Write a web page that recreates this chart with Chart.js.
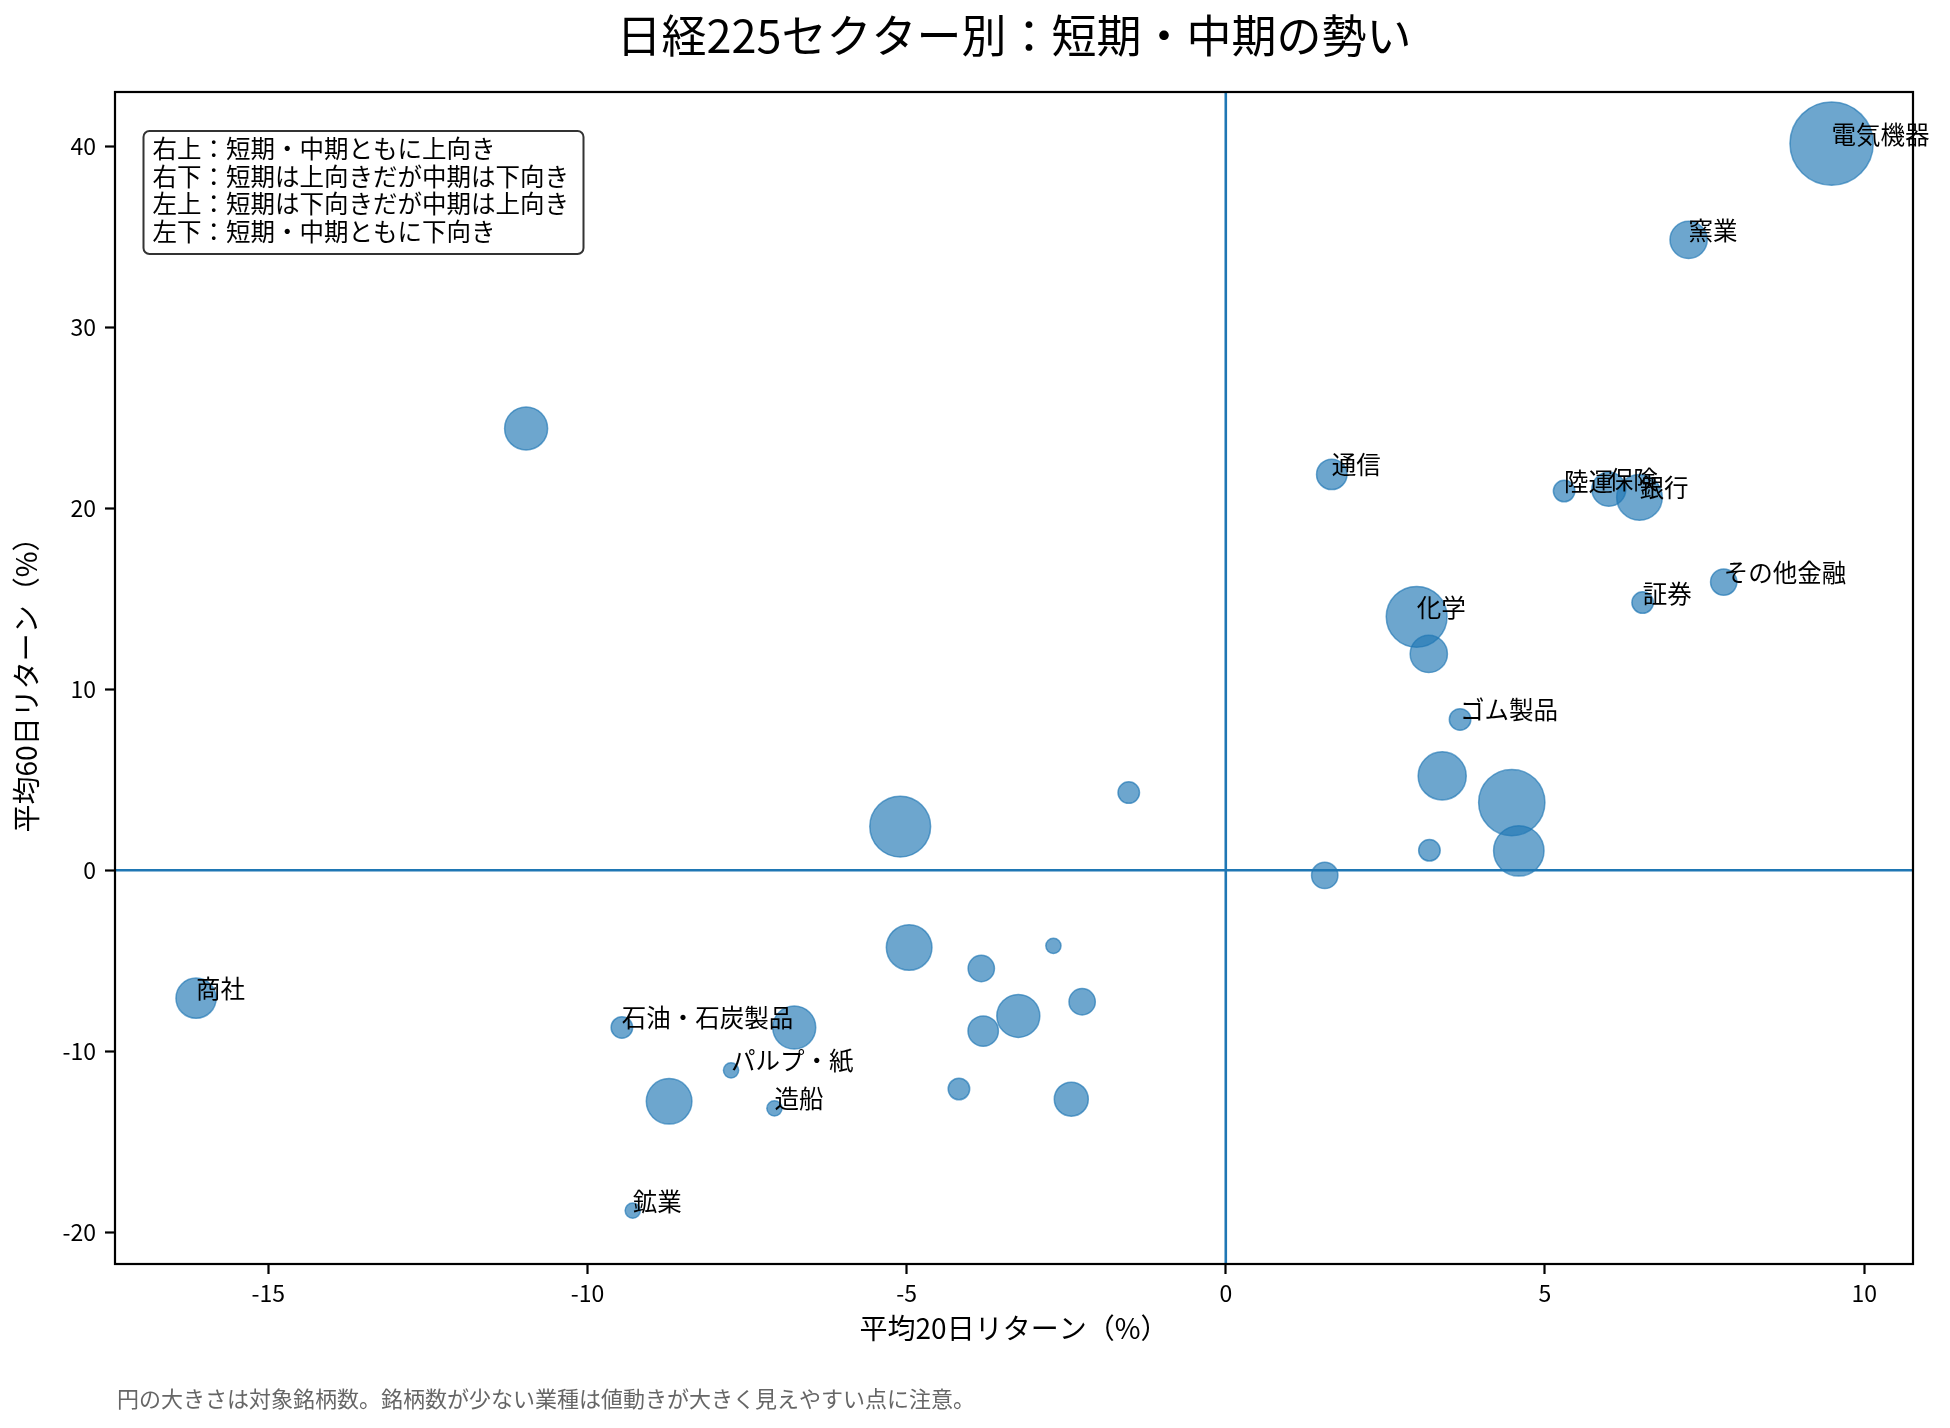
<!DOCTYPE html>
<html>
<head>
<meta charset="utf-8">
<title>日経225セクター別：短期・中期の勢い</title>
<script src="https://cdn.jsdelivr.net/npm/chart.js@4.4.1/dist/chart.umd.min.js"></script>
<style>
  html, body { margin: 0; padding: 0; background: #fff; }
  canvas { display: block; }
</style>
</head>
<body>
<canvas id="sectorChart" width="1950" height="1428"></canvas>
<script>
// セクター名（ラベルを付けない点は空文字）
const sectorNames = [
  '電気機器', '窯業', '通信', '陸運', '保険', '銀行', '証券', 'その他金融',
  '化学', '', 'ゴム製品', '', '', '', '', '', '', '', '',
  '商社', '石油・石炭製品', '', 'パルプ・紙', '造船', '', '鉱業',
  '', '', '', '', '', '', '', ''
];
// 平均20日リターン（%）
const ret20 = [
  9.49, 7.25, 1.66, 5.30, 6.00, 6.48, 6.53, 7.80,
  2.99, 3.18, 3.67, 3.39, 4.48, 4.59, 3.19, 1.55, -1.52, -5.10, -10.96,
  -16.13, -9.46, -6.76, -7.75, -7.07, -8.72, -9.29,
  -4.96, -3.83, -2.70, -2.25, -3.25, -3.80, -4.18, -2.42
];
// 平均60日リターン（%）
const ret60 = [
  40.15, 34.83, 21.87, 20.95, 21.05, 20.60, 14.79, 15.92,
  14.00, 11.95, 8.33, 5.21, 3.74, 1.07, 1.10, -0.29, 4.29, 2.41, 24.41,
  -7.07, -8.69, -8.69, -11.06, -13.16, -12.77, -18.81,
  -4.27, -5.43, -4.18, -7.27, -8.05, -8.89, -12.09, -12.65
];
// 対象銘柄数（円の大きさ）
const stockCounts = [
  30, 6, 4, 2, 5, 9, 2, 3,
  16, 6, 2, 10, 19, 11, 2, 3, 2, 16, 8,
  7, 2, 8, 1, 1, 9, 1,
  9, 3, 1, 3, 8, 4, 2, 5
];
const xTicks = [-15, -10, -5, 0, 5, 10];
const yTicks = [-20, -10, 0, 10, 20, 30, 40];
const quadrantNotes = [
  '右上：短期・中期ともに上向き',
  '右下：短期は上向きだが中期は下向き',
  '左上：短期は下向きだが中期は上向き',
  '左下：短期・中期ともに下向き'
];
const chartTitle = '日経225セクター別：短期・中期の勢い';
const footNote = '円の大きさは対象銘柄数。銘柄数が少ない業種は値動きが大きく見えやすい点に注意。';

const FONT = '"Noto Sans CJK JP", "Noto Sans", sans-serif';
Chart.defaults.font.family = FONT;
Chart.defaults.color = '#000';

const points = ret20.map((x, i) => ({ x: x, y: ret60[i], r: 7.6 * Math.sqrt(stockCounts[i]) }));

// 0ライン・枠・ラベル・注記を描く
const overlay = {
  id: 'overlay',
  afterDatasetsDraw(chart) {
    const { ctx, chartArea: a, scales: { x, y } } = chart;
    ctx.save();
    const x0 = x.getPixelForValue(0);
    const y0 = y.getPixelForValue(0);
    ctx.strokeStyle = '#1f77b4';
    ctx.lineWidth = 2.6;
    ctx.beginPath();
    ctx.moveTo(x0, a.top); ctx.lineTo(x0, a.bottom);
    ctx.moveTo(a.left, y0); ctx.lineTo(a.right, y0);
    ctx.stroke();

    ctx.strokeStyle = '#000';
    ctx.lineWidth = 2.2;
    ctx.strokeRect(a.left, a.top, a.right - a.left, a.bottom - a.top);

    // セクター名
    ctx.fillStyle = '#000';
    ctx.font = '24.5px ' + FONT;
    ctx.textAlign = 'left';
    ctx.textBaseline = 'alphabetic';
    sectorNames.forEach((name, i) => {
      if (!name) return;
      ctx.fillText(name, x.getPixelForValue(ret20[i]), y.getPixelForValue(ret60[i]));
    });

    // 象限の説明ボックス
    const bx = a.left + 28.5, by = a.top + 39, bw = 440, bh = 123, rad = 6;
    ctx.beginPath();
    ctx.roundRect(bx, by, bw, bh, rad);
    ctx.fillStyle = 'rgba(255,255,255,0.85)';
    ctx.fill();
    ctx.strokeStyle = '#333';
    ctx.lineWidth = 2;
    ctx.stroke();
    ctx.fillStyle = '#000';
    ctx.textBaseline = 'middle';
    quadrantNotes.forEach((t, i) => ctx.fillText(t, bx + 9, by + 17.5 + i * 27.8));

    // タイトルと脚注
    ctx.textAlign = 'center';
    ctx.font = '45px ' + FONT;
    ctx.fillText(chartTitle, (a.left + a.right) / 2, 36);
    ctx.textAlign = 'left';
    ctx.font = '22px ' + FONT;
    ctx.fillStyle = '#666';
    ctx.fillText(footNote, 117, 1399);
    ctx.restore();
  }
};

new Chart(document.getElementById('sectorChart'), {
  type: 'bubble',
  data: {
    datasets: [{
      data: points,
      backgroundColor: 'rgba(31,119,180,0.65)',
      borderColor: 'rgba(31,119,180,0.65)',
      borderWidth: 1.5
    }]
  },
  options: {
    responsive: false,
    animation: false,
    events: [],
    layout: { autoPadding: false, padding: { top: 92, right: 37, left: 0, bottom: 0 } },
    plugins: { legend: { display: false }, tooltip: { enabled: false } },
    scales: {
      x: {
        type: 'linear',
        min: -17.4, max: 10.765,
        afterFit: s => { s.height = 164; },
        afterBuildTicks: s => { s.ticks = xTicks.map(v => ({ value: v })); },
        grid: { drawOnChartArea: false, drawTicks: true, tickLength: 10, tickColor: '#000', tickWidth: 2.2 },
        border: { display: false },
        ticks: { padding: 5, color: '#000', font: { size: 23 }, callback: v => String(v) },
        title: { display: true, text: '平均20日リターン（%）', color: '#000', font: { size: 28 }, padding: { bottom: 83 } }
      },
      y: {
        type: 'linear',
        min: -21.76, max: 43.0,
        afterFit: s => { s.width = 115; },
        afterBuildTicks: s => { s.ticks = yTicks.map(v => ({ value: v })); },
        grid: { drawOnChartArea: false, drawTicks: true, tickLength: 10, tickColor: '#000', tickWidth: 2.2 },
        border: { display: false },
        ticks: { padding: 9, color: '#000', font: { size: 23 }, callback: v => String(v) },
        title: { display: true, text: '平均60日リターン（%）', color: '#000', font: { size: 28 }, padding: { top: 10 } }
      }
    }
  },
  plugins: [overlay]
});
</script>
</body>
</html>
